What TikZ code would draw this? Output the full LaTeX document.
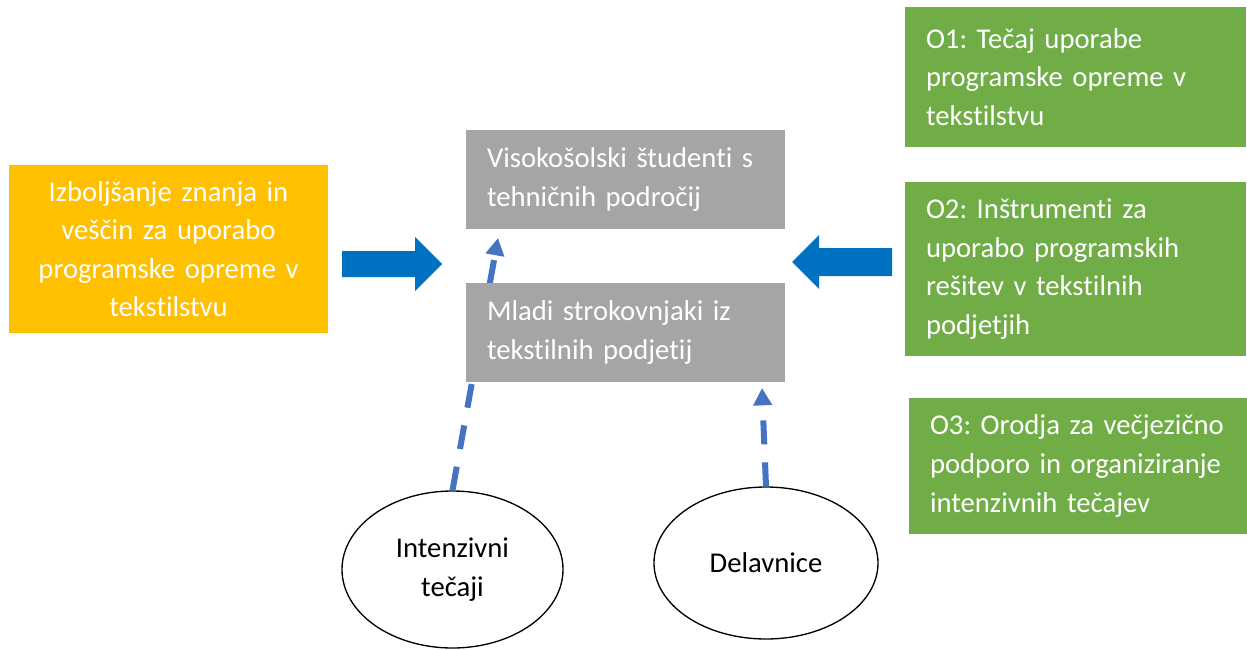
\documentclass[tikz,border=0pt]{standalone}
\usepackage{fontspec}
\setmainfont{Carlito}[Ligatures={NoCommon}]
\usetikzlibrary{shapes.geometric,arrows.meta}
\definecolor{cOrange}{HTML}{FFC000}
\definecolor{cGray}{HTML}{A5A5A5}
\definecolor{cGreen}{HTML}{70AD47}
\definecolor{cBlock}{HTML}{0070C0}
\definecolor{cDash}{HTML}{4472C4}
\frenchspacing
\newcommand\diagfont{\fontsize{21.5}{28.9}\selectfont\hyphenpenalty=10000\exhyphenpenalty=10000}
\begin{document}
\begin{tikzpicture}[x=0.75pt,y=-0.75pt,
  box/.style={rectangle, inner xsep=15.75pt, inner ysep=0pt, text=white, font=\diagfont, align=left},
  graybox/.style={box, fill=cGray, text width=207.75pt, minimum height=74.25pt},
  greenbox/.style={box, fill=cGreen},
  goalbox/.style={box, fill=cOrange, align=center, inner xsep=6pt, text width=227.25pt, minimum height=126pt},
  oval/.style={ellipse, draw=black, line width=1pt, fill=white, inner sep=0pt, font=\diagfont, align=center},
  blockarrow/.style={fill=cBlock},
  dasharrow/.style={draw=cDash, line width=4.5pt, dash pattern=on 18pt off 13.5pt, -{Triangle[length=13pt,width=13.5pt]}}
]
\useasboundingbox (0,0) rectangle (1247,650);

% left goal box
\node[goalbox] (goal) at (168.5,249) {Izboljšanje znanja in\\veščin za uporabo\\programske opreme v\\tekstilstvu};

% outputs
\node[greenbox, text width=224.25pt, minimum height=105pt] (o1) at (1075.5,77) {O1: Tečaj uporabe\\programske opreme v\\tekstilstvu};
\node[greenbox, text width=224.25pt, minimum height=130.5pt] (o2) at (1075.5,269) {O2: Inštrumenti za\\uporabo programskih\\rešitev v tekstilnih\\podjetjih};
\node[greenbox, text width=222pt, minimum height=102pt] (o3) at (1078,466) {O3: Orodja za večjezično\\podporo in organiziranje\\intenzivnih tečajev};

% ellipses
\node[oval, minimum width=165.75pt, minimum height=117.75pt] (e1) at (452.5,569.5) {Intenzivni\\tečaji};
\node[oval, minimum width=168pt, minimum height=114pt] (e2) at (766,563) {Delavnice};

% dashed arrows
\coordinate (t1) at (498,238);
\coordinate (t2) at (762,388);
\draw[dasharrow] (e1.north) -- (t1);
\draw[dasharrow] (e2.north) -- (t2);

% target group boxes
\node[graybox] (g1) at (625.5,179.5) {Visokošolski študenti s\\tehničnih področij};
\node[graybox] (g2) at (625.5,332.5) {Mladi strokovnjaki iz\\tekstilnih podjetij};

% block arrows
\fill[blockarrow] (342,251) -- (415,251) -- (415,237) -- (442,264) -- (415,291) -- (415,277) -- (342,277) -- cycle;
\fill[blockarrow] (892,248) -- (819,248) -- (819,235) -- (792,262) -- (819,289) -- (819,276) -- (892,276) -- cycle;
\end{tikzpicture}
\end{document}
